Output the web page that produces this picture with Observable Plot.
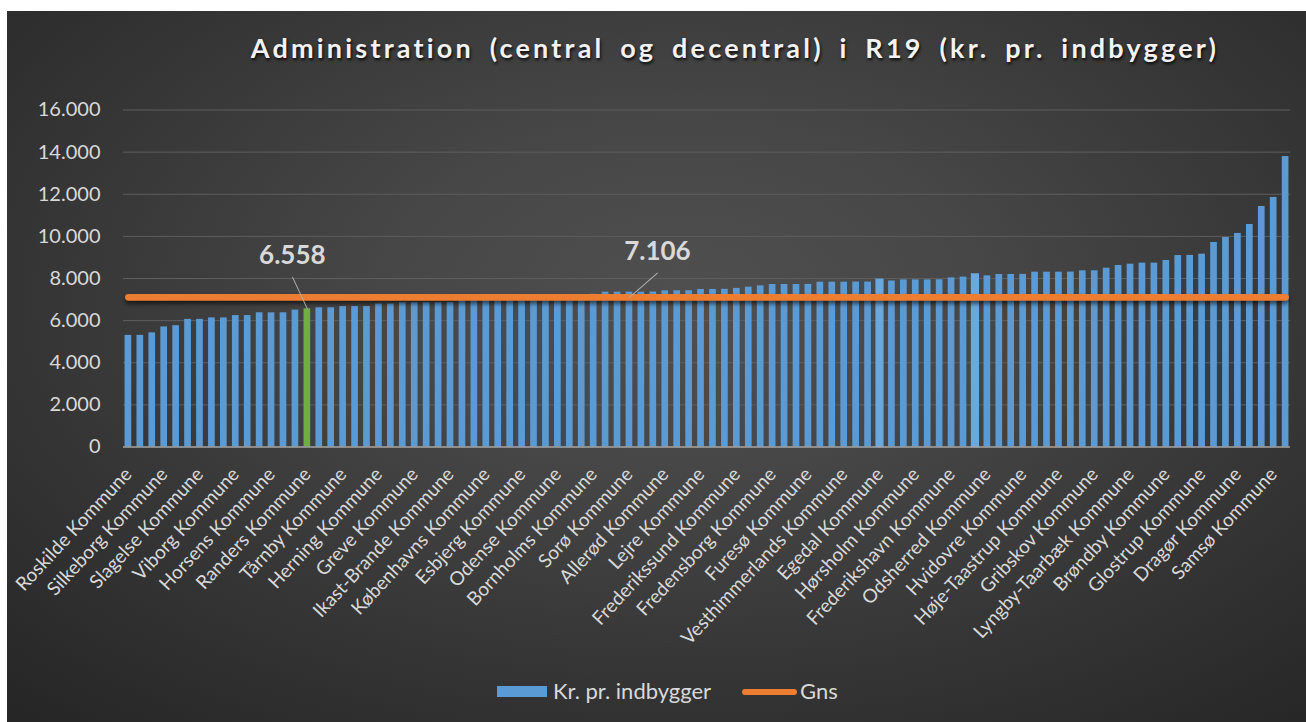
<!DOCTYPE html>
<html><head><meta charset="utf-8">
<script src="https://cdn.jsdelivr.net/npm/d3@7"></script>
<script src="https://cdn.jsdelivr.net/npm/@observablehq/plot@0.6"></script>
<style>
body{margin:0;background:#fff;width:1306px;height:722px;overflow:hidden;font-family:Lato,"Open Sans",sans-serif;position:relative;}
#bg{position:absolute;left:7px;top:11px;width:1299px;height:711px;
 background:radial-gradient(ellipse 75% 80% at 52% 40%, #4f4f4f 0%, #474747 30%, #363636 65%, #262626 100%);}
#title{position:absolute;left:735px;top:33px;transform:translateX(-50%);white-space:nowrap;
 font:bold 27px Lato,"Open Sans",sans-serif;line-height:30px;letter-spacing:3.2px;word-spacing:6px;color:#f2f2f2;
 text-shadow:1px 2px 3px rgba(0,0,0,0.85);}
#plot{position:absolute;left:0;top:0;}
.lg{position:absolute;}
.lgtext{position:absolute;font:22px Lato,"Open Sans",sans-serif;line-height:22px;color:#d9d9d9;white-space:nowrap;}
</style></head>
<body>
<div id="bg"></div>
<div id="title"></div>
<div id="plot"></div>
<div id="legend"></div>
<script>
// ---- data ----
const title = "Administration (central og decentral) i R19 (kr. pr. indbygger)";
const seriesName = "Kr. pr. indbygger";
const avgName = "Gns";
// kr. pr. indbygger, sorted, 98 municipalities (labels shown for every third bar)
const values = [
  5300, 5300, 5420, 5700, 5760, 6060, 6060, 6130, 6130, 6240,
  6240, 6370, 6370, 6370, 6500, 6558, 6610, 6610, 6670, 6670,
  6670, 6790, 6790, 6850, 6850, 6850, 6850, 6860, 6960, 6980,
  7000, 7020, 7050, 7070, 7100, 7120, 7150, 7180, 7210, 7250,
  7350, 7350, 7350, 7350, 7360, 7415, 7415, 7420, 7480, 7480,
  7485, 7530, 7590, 7650, 7715, 7715, 7715, 7720, 7825, 7825,
  7825, 7830, 7830, 7935, 7880, 7935, 7935, 7935, 7940, 8030,
  8065, 8190, 8125, 8190, 8190, 8195, 8300, 8300, 8300, 8305,
  8365, 8365, 8490, 8620, 8680, 8730, 8730, 8855, 9090, 9095,
  9155, 9710, 9950, 10140, 10565, 11420, 11850, 13790
];
const tickLabels = [
  "Roskilde Kommune", "Silkeborg Kommune", "Slagelse Kommune", "Viborg Kommune",
  "Horsens Kommune", "Randers Kommune", "Tårnby Kommune", "Herning Kommune",
  "Greve Kommune", "Ikast-Brande Kommune", "Københavns Kommune", "Esbjerg Kommune",
  "Odense Kommune", "Bornholms Kommune", "Sorø Kommune", "Allerød Kommune",
  "Lejre Kommune", "Frederikssund Kommune", "Fredensborg Kommune", "Furesø Kommune",
  "Vesthimmerlands Kommune", "Egedal Kommune", "Hørsholm Kommune", "Frederikshavn Kommune",
  "Odsherred Kommune", "Hvidovre Kommune", "Høje-Taastrup Kommune", "Gribskov Kommune",
  "Lyngby-Taarbæk Kommune", "Brøndby Kommune", "Glostrup Kommune", "Dragør Kommune",
  "Samsø Kommune"
];
const labelEvery = 3;
const gns = 7106;            // average
const markedIndex = 15;      // Randers Kommune, 6.558 (green bar)
const gnsLabelIndex = 42;    // where the average value is labelled
const lighterBars = [63, 71];
const yTicks = [0, 2000, 4000, 6000, 8000, 10000, 12000, 14000, 16000];

// ---- chart ----
const idx = d3.range(values.length);
const daFmt = d3.formatLocale({decimal: ",", thousands: ".", grouping: [3], currency: ["", " kr."]}).format(",d");
const spike = {draw(context, l) { context.moveTo(0, 0); context.lineTo(0, -l); }};

document.getElementById("title").textContent = title;

const chart = Plot.plot({
  width: 1306, height: 660,
  marginLeft: 123, marginRight: 16, marginTop: 109.5, marginBottom: 213.5,
  style: {background: "transparent", fontFamily: "Lato, 'Open Sans', sans-serif", color: "#d9d9d9", overflow: "visible"},
  x: {type: "band", domain: idx, paddingInner: 0.44, paddingOuter: 0.13},
  y: {domain: [0, 16000]},
  marks: [
    Plot.gridY(yTicks.filter(d => d > 0), {stroke: "#5e5e5e", strokeOpacity: 1, strokeWidth: 1}),
    Plot.axisY(yTicks, {tickSize: 0, tickPadding: 23, tickFormat: daFmt, fontSize: 20, fill: "#d9d9d9", label: null}),
    Plot.axisX(d3.range(0, values.length, labelEvery), {
      tickSize: 0, tickPadding: 24, tickRotate: -47, fontSize: 19, fill: "#d9d9d9", label: null,
      tickFormat: i => tickLabels[i / labelEvery]
    }),
    Plot.barY(idx, {filter: i => i !== markedIndex && !lighterBars.includes(i), x: i => i, y: i => values[i], fill: "#5b9bd5"}),
    Plot.barY(idx, {filter: i => lighterBars.includes(i), x: i => i, y: i => values[i], fill: "#6aa8e0", stroke: "#6aa8e0", strokeWidth: 1.5}),
    Plot.barY([markedIndex], {x: i => i, y: i => values[i], fill: "#70ad47"}),
    Plot.ruleY([0], {stroke: "#a6a6a6", strokeWidth: 1.5}),
    Plot.lineY(idx, {x: i => i, y: () => gns, stroke: "#ed7d31", strokeWidth: 6.7, strokeLinecap: "round"}),
    Plot.vector([markedIndex], {x: i => i, y: i => values[i], length: 35, rotate: -25, anchor: "start", shape: spike, stroke: "#b0b0b0", strokeWidth: 1}),
    Plot.text([markedIndex], {x: i => i, y: i => values[i], text: i => daFmt(values[i]), dx: -15, dy: -45, lineAnchor: "bottom",
      fontSize: 26, fontWeight: "bold", fill: "#d9d9d9"}),
    Plot.vector([gnsLabelIndex], {x: i => i, y: () => gns, length: 37, rotate: 49, anchor: "start", shape: spike, stroke: "#b0b0b0", strokeWidth: 1}),
    Plot.text([gnsLabelIndex], {x: i => i, y: () => gns, text: () => daFmt(gns), dx: 28, dy: -37, lineAnchor: "bottom",
      fontSize: 26, fontWeight: "bold", fill: "#d9d9d9"})
  ]
});
document.getElementById("plot").appendChild(chart);
const lineG = chart.querySelector('g[aria-label="line"]');
if (lineG) lineG.style.filter = "drop-shadow(0px 3px 2px rgba(0,0,0,0.6))";

// ---- legend ----
const legend = document.getElementById("legend");
legend.innerHTML =
  `<div class="lg" style="left:497px;top:686px;width:50px;height:11px;background:#5b9bd5"></div>` +
  `<div class="lgtext" style="left:553px;top:680px">${seriesName}</div>` +
  `<div class="lg" style="left:742px;top:689px;width:55px;height:6px;border-radius:3px;background:#ed7d31"></div>` +
  `<div class="lgtext" style="left:800px;top:680px">${avgName}</div>`;
</script>
</body></html>
